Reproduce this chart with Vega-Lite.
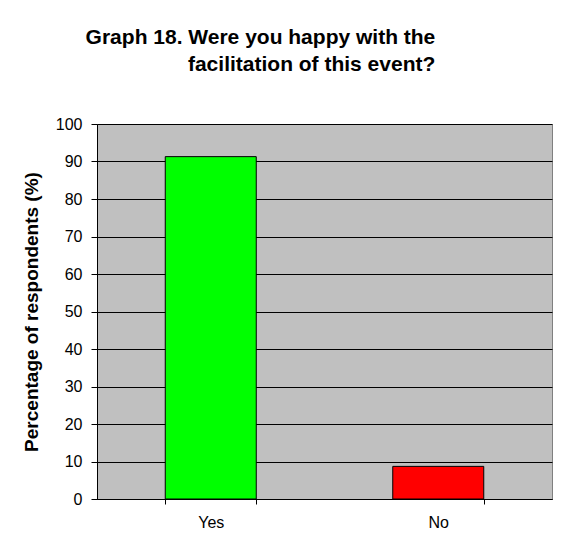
{
  "$schema": "https://vega.github.io/schema/vega-lite/v6.json",
  "autosize": "none",
  "width": 455,
  "height": 375,
  "padding": {"left": 97, "top": 124, "right": 11, "bottom": 55},
  "background": "white",
  "title": {
    "text": ["Graph 18. Were you happy with the", "facilitation of this event?"],
    "anchor": "start",
    "align": "right",
    "dx": 413,
    "offset": 41,
    "lineHeight": 27.5,
    "font": "Liberation Sans",
    "fontSize": 21,
    "fontWeight": "bold",
    "color": "black"
  },
  "data": {
    "values": [
      {"answer": "Yes", "percent": 91.3},
      {"answer": "No", "percent": 8.7}
    ]
  },
  "mark": {"type": "bar", "stroke": "black", "strokeWidth": 1},
  "encoding": {
    "x": {
      "field": "answer",
      "type": "nominal",
      "sort": ["Yes", "No"],
      "scale": {"paddingInner": 0.6, "paddingOuter": 0.3},
      "axis": {
        "title": null,
        "labelAngle": 0,
        "tickBand": "extent",
        "tickExtra": true,
        "tickSize": 5,
        "labelPadding": 10,
        "domainColor": "black",
        "tickColor": "black"
      }
    },
    "y": {
      "field": "percent",
      "type": "quantitative",
      "scale": {"domain": [0, 100]},
      "axis": {
        "title": "Percentage of respondents (%)",
        "values": [0, 10, 20, 30, 40, 50, 60, 70, 80, 90, 100],
        "tickSize": 6,
        "labelPadding": 9,
        "titlePadding": 14,
        "titleFontSize": 19,
        "titleFontWeight": "bold",
        "grid": true,
        "gridColor": "black",
        "gridOpacity": 1,
        "domainColor": "black",
        "tickColor": "black"
      }
    },
    "color": {
      "field": "answer",
      "type": "nominal",
      "scale": {"domain": ["Yes", "No"], "range": ["#00FF00", "#FF0000"]},
      "legend": null
    }
  },
  "config": {
    "font": "Liberation Sans",
    "view": {"fill": "#C0C0C0", "stroke": "#808080", "strokeWidth": 1},
    "axis": {
      "labelFont": "Liberation Sans",
      "labelFontSize": 16,
      "labelColor": "black",
      "titleFont": "Liberation Sans",
      "titleColor": "black"
    }
  }
}
